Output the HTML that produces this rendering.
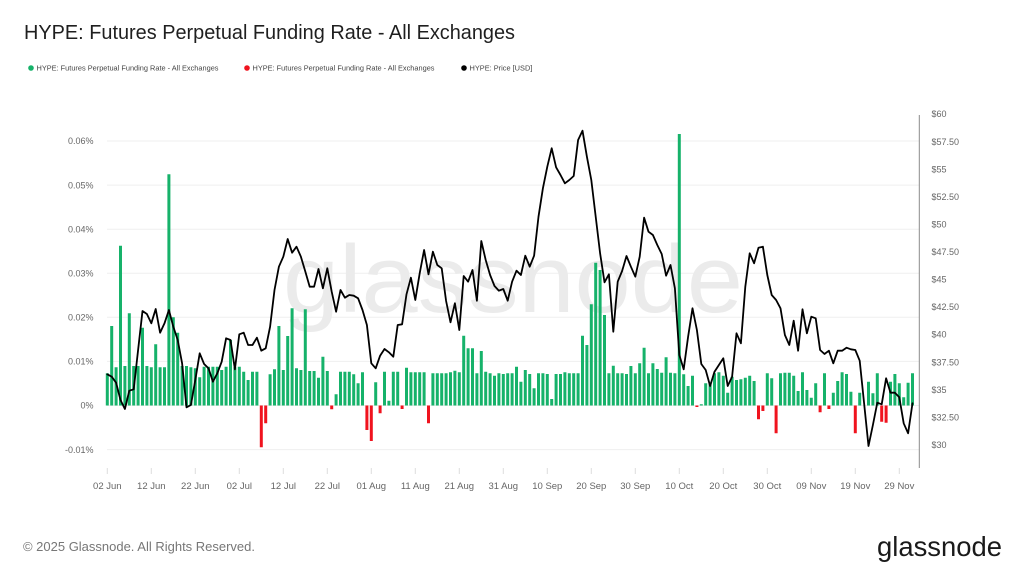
<!DOCTYPE html>
<html><head><meta charset="utf-8"><style>
html,body{margin:0;padding:0;background:#fff;width:1024px;height:571px;overflow:hidden}
svg{display:block}
text{font-family:"Liberation Sans",sans-serif}
</style></head><body>
<svg width="1024" height="571" viewBox="0 0 1024 571" xmlns="http://www.w3.org/2000/svg">
<rect width="1024" height="571" fill="#fff"/>
<text x="24" y="39" font-size="20" fill="#1f1f1f" textLength="491" lengthAdjust="spacingAndGlyphs">HYPE: Futures Perpetual Funding Rate - All Exchanges</text>
<circle cx="31" cy="68" r="2.8" fill="#16b26a"/>
<text x="36.5" y="70.6" font-size="7.4" fill="#444" textLength="182" lengthAdjust="spacingAndGlyphs">HYPE: Futures Perpetual Funding Rate - All Exchanges</text>
<circle cx="247" cy="68" r="2.8" fill="#f0131e"/>
<text x="252.5" y="70.6" font-size="7.4" fill="#444" textLength="182" lengthAdjust="spacingAndGlyphs">HYPE: Futures Perpetual Funding Rate - All Exchanges</text>
<circle cx="464" cy="68" r="2.8" fill="#000"/>
<text x="469.5" y="70.6" font-size="7.4" fill="#444">HYPE: Price [USD]</text>

<g stroke="#efefef" stroke-width="1">
<line x1="107" y1="141" x2="919" y2="141"/>
<line x1="107" y1="185.1" x2="919" y2="185.1"/>
<line x1="107" y1="229.2" x2="919" y2="229.2"/>
<line x1="107" y1="273.3" x2="919" y2="273.3"/>
<line x1="107" y1="317.3" x2="919" y2="317.3"/>
<line x1="107" y1="361.4" x2="919" y2="361.4"/>
<line x1="107" y1="405.5" x2="919" y2="405.5"/>
<line x1="107" y1="449.6" x2="919" y2="449.6"/>
</g>

<text x="283" y="312" font-size="96" fill="#ebebeb" textLength="460" lengthAdjust="spacingAndGlyphs">glassnode</text>

<g font-size="9" fill="#666" text-anchor="end">
<text x="93.5" y="144.2">0.06%</text>
<text x="93.5" y="188.3">0.05%</text>
<text x="93.5" y="232.4">0.04%</text>
<text x="93.5" y="276.5">0.03%</text>
<text x="93.5" y="320.5">0.02%</text>
<text x="93.5" y="364.6">0.01%</text>
<text x="93.5" y="408.7">0%</text>
<text x="93.5" y="452.8">-0.01%</text>
</g>
<g font-size="9" fill="#666">
<text x="931.5" y="117.2">$60</text>
<text x="931.5" y="144.8">$57.50</text>
<text x="931.5" y="172.3">$55</text>
<text x="931.5" y="199.9">$52.50</text>
<text x="931.5" y="227.5">$50</text>
<text x="931.5" y="255">$47.50</text>
<text x="931.5" y="282.6">$45</text>
<text x="931.5" y="310.2">$42.50</text>
<text x="931.5" y="337.7">$40</text>
<text x="931.5" y="365.3">$37.50</text>
<text x="931.5" y="392.9">$35</text>
<text x="931.5" y="420.4">$32.50</text>
<text x="931.5" y="448">$30</text>
</g>
<line x1="919.3" y1="115" x2="919.3" y2="468" stroke="#8a8a8a" stroke-width="1"/>

<g stroke="#dddddd" stroke-width="1">
<line x1="107.3" y1="468" x2="107.3" y2="474"/><line x1="151.3" y1="468" x2="151.3" y2="474"/><line x1="195.3" y1="468" x2="195.3" y2="474"/><line x1="239.3" y1="468" x2="239.3" y2="474"/><line x1="283.3" y1="468" x2="283.3" y2="474"/><line x1="327.3" y1="468" x2="327.3" y2="474"/><line x1="371.3" y1="468" x2="371.3" y2="474"/><line x1="415.3" y1="468" x2="415.3" y2="474"/><line x1="459.3" y1="468" x2="459.3" y2="474"/><line x1="503.3" y1="468" x2="503.3" y2="474"/><line x1="547.3" y1="468" x2="547.3" y2="474"/><line x1="591.3" y1="468" x2="591.3" y2="474"/><line x1="635.3" y1="468" x2="635.3" y2="474"/><line x1="679.3" y1="468" x2="679.3" y2="474"/><line x1="723.3" y1="468" x2="723.3" y2="474"/><line x1="767.3" y1="468" x2="767.3" y2="474"/><line x1="811.3" y1="468" x2="811.3" y2="474"/><line x1="855.3" y1="468" x2="855.3" y2="474"/><line x1="899.3" y1="468" x2="899.3" y2="474"/>
</g>
<g font-size="9.5" fill="#666" text-anchor="middle">
<text x="107.3" y="489">02 Jun</text><text x="151.3" y="489">12 Jun</text><text x="195.3" y="489">22 Jun</text><text x="239.3" y="489">02 Jul</text><text x="283.3" y="489">12 Jul</text><text x="327.3" y="489">22 Jul</text><text x="371.3" y="489">01 Aug</text><text x="415.3" y="489">11 Aug</text><text x="459.3" y="489">21 Aug</text><text x="503.3" y="489">31 Aug</text><text x="547.3" y="489">10 Sep</text><text x="591.3" y="489">20 Sep</text><text x="635.3" y="489">30 Sep</text><text x="679.3" y="489">10 Oct</text><text x="723.3" y="489">20 Oct</text><text x="767.3" y="489">30 Oct</text><text x="811.3" y="489">09 Nov</text><text x="855.3" y="489">19 Nov</text><text x="899.3" y="489">29 Nov</text>
</g>

<path fill="#16b26a" d="M105.8 373.3h3V405.5h-3z M110.2 326h3V405.5h-3z M114.6 367.3h3V405.5h-3z M119 245.7h3V405.5h-3z M123.4 366h3V405.5h-3z M127.8 313.3h3V405.5h-3z M132.2 366h3V405.5h-3z M136.6 366h3V405.5h-3z M141 327.7h3V405.5h-3z M145.4 366h3V405.5h-3z M149.8 367.3h3V405.5h-3z M154.2 344.3h3V405.5h-3z M158.6 367.3h3V405.5h-3z M163 367.3h3V405.5h-3z M167.4 174.3h3V405.5h-3z M171.8 317.3h3V405.5h-3z M176.2 332.7h3V405.5h-3z M180.6 366h3V405.5h-3z M185 366h3V405.5h-3z M189.4 367.3h3V405.5h-3z M193.8 368.3h3V405.5h-3z M198.2 377.3h3V405.5h-3z M202.6 366.7h3V405.5h-3z M207 366.7h3V405.5h-3z M211.4 366.7h3V405.5h-3z M215.8 366.7h3V405.5h-3z M220.2 370h3V405.5h-3z M224.6 366.7h3V405.5h-3z M229 340h3V405.5h-3z M233.4 367.3h3V405.5h-3z M237.8 366.7h3V405.5h-3z M242.2 371.7h3V405.5h-3z M246.6 380h3V405.5h-3z M251 371.7h3V405.5h-3z M255.4 371.7h3V405.5h-3z M268.6 374.3h3V405.5h-3z M273 369.3h3V405.5h-3z M277.4 326h3V405.5h-3z M281.8 370h3V405.5h-3z M286.2 336h3V405.5h-3z M290.6 308.3h3V405.5h-3z M295 368.3h3V405.5h-3z M299.4 370h3V405.5h-3z M303.8 309.3h3V405.5h-3z M308.2 371h3V405.5h-3z M312.6 371h3V405.5h-3z M317 377.7h3V405.5h-3z M321.4 356.7h3V405.5h-3z M325.8 371h3V405.5h-3z M334.6 394.3h3V405.5h-3z M339 371.7h3V405.5h-3z M343.4 371.7h3V405.5h-3z M347.8 371.7h3V405.5h-3z M352.2 374.3h3V405.5h-3z M356.6 383.3h3V405.5h-3z M361 372.3h3V405.5h-3z M374.2 382.3h3V405.5h-3z M383 371.7h3V405.5h-3z M387.4 400.7h3V405.5h-3z M391.8 371.7h3V405.5h-3z M396.2 371.7h3V405.5h-3z M405 367.7h3V405.5h-3z M409.4 372.3h3V405.5h-3z M413.8 372.3h3V405.5h-3z M418.2 372.3h3V405.5h-3z M422.6 372.3h3V405.5h-3z M431.4 373.3h3V405.5h-3z M435.8 373.3h3V405.5h-3z M440.2 373.3h3V405.5h-3z M444.6 373.3h3V405.5h-3z M449 372.3h3V405.5h-3z M453.4 370.7h3V405.5h-3z M457.8 372.3h3V405.5h-3z M462.2 335.7h3V405.5h-3z M466.6 348.3h3V405.5h-3z M471 348.3h3V405.5h-3z M475.4 373.3h3V405.5h-3z M479.8 351h3V405.5h-3z M484.2 371.7h3V405.5h-3z M488.6 373.3h3V405.5h-3z M493 375.7h3V405.5h-3z M497.4 373.3h3V405.5h-3z M501.8 374h3V405.5h-3z M506.2 373.3h3V405.5h-3z M510.6 373.3h3V405.5h-3z M515 366.7h3V405.5h-3z M519.4 381.7h3V405.5h-3z M523.8 370h3V405.5h-3z M528.2 374h3V405.5h-3z M532.6 388.3h3V405.5h-3z M537 373.3h3V405.5h-3z M541.4 373.3h3V405.5h-3z M545.8 374h3V405.5h-3z M550.2 399h3V405.5h-3z M554.6 374h3V405.5h-3z M559 374h3V405.5h-3z M563.4 372.3h3V405.5h-3z M567.8 373.3h3V405.5h-3z M572.2 373.3h3V405.5h-3z M576.6 373.3h3V405.5h-3z M581 335.7h3V405.5h-3z M585.4 345h3V405.5h-3z M589.8 304.3h3V405.5h-3z M594.2 262.7h3V405.5h-3z M598.6 270h3V405.5h-3z M603 315h3V405.5h-3z M607.4 373.3h3V405.5h-3z M611.8 365.7h3V405.5h-3z M616.2 373.3h3V405.5h-3z M620.6 373.3h3V405.5h-3z M625 374h3V405.5h-3z M629.4 366h3V405.5h-3z M633.8 373.3h3V405.5h-3z M638.2 363.3h3V405.5h-3z M642.6 347.7h3V405.5h-3z M647 373.3h3V405.5h-3z M651.4 363.3h3V405.5h-3z M655.8 369h3V405.5h-3z M660.2 372.7h3V405.5h-3z M664.6 357.3h3V405.5h-3z M669 372.7h3V405.5h-3z M673.4 373.3h3V405.5h-3z M677.8 134h3V405.5h-3z M682.2 374.3h3V405.5h-3z M686.6 386h3V405.5h-3z M691 375.7h3V405.5h-3z M699.8 404.3h3V405.5h-3z M704.2 383.3h3V405.5h-3z M708.6 382.7h3V405.5h-3z M713 373.3h3V405.5h-3z M717.4 372.3h3V405.5h-3z M721.8 375.7h3V405.5h-3z M726.2 392.7h3V405.5h-3z M730.6 376.7h3V405.5h-3z M735 380h3V405.5h-3z M739.4 379.3h3V405.5h-3z M743.8 377.7h3V405.5h-3z M748.2 375.7h3V405.5h-3z M752.6 381h3V405.5h-3z M765.8 373.3h3V405.5h-3z M770.2 378.3h3V405.5h-3z M779 373.3h3V405.5h-3z M783.4 372.7h3V405.5h-3z M787.8 372.7h3V405.5h-3z M792.2 375.7h3V405.5h-3z M796.6 391h3V405.5h-3z M801 372.3h3V405.5h-3z M805.4 390h3V405.5h-3z M809.8 397.7h3V405.5h-3z M814.2 383.3h3V405.5h-3z M823 373.3h3V405.5h-3z M831.8 392.7h3V405.5h-3z M836.2 381h3V405.5h-3z M840.6 372.3h3V405.5h-3z M845 374h3V405.5h-3z M849.4 391.7h3V405.5h-3z M858.2 392.7h3V405.5h-3z M867 381.7h3V405.5h-3z M871.4 393.3h3V405.5h-3z M875.8 373.3h3V405.5h-3z M889 381.7h3V405.5h-3z M893.4 374h3V405.5h-3z M897.8 383.3h3V405.5h-3z M902.2 397.3h3V405.5h-3z M906.6 382.7h3V405.5h-3z M911 373.3h3V405.5h-3z"/>
<path fill="#f0131e" d="M259.8 405.5h3V447.3h-3z M264.2 405.5h3V423.3h-3z M330.2 405.5h3V409.3h-3z M365.4 405.5h3V430h-3z M369.8 405.5h3V441h-3z M378.6 405.5h3V413.3h-3z M400.6 405.5h3V409h-3z M427 405.5h3V423.3h-3z M695.4 405.5h3V407h-3z M757 405.5h3V419.3h-3z M761.4 405.5h3V411h-3z M774.6 405.5h3V433.3h-3z M818.6 405.5h3V412.3h-3z M827.4 405.5h3V409h-3z M853.8 405.5h3V433.3h-3z M880.2 405.5h3V421.7h-3z M884.6 405.5h3V422.7h-3z"/>

<polyline fill="none" stroke="#000" stroke-width="1.8" stroke-linejoin="round" stroke-linecap="round" points="107.3,374.3 111.7,376.7 116.1,382.7 120.5,400 124.9,409 129.3,390.7 133.7,389.3 138.1,350 142.5,311 146.9,314 151.3,323.3 155.7,309 160.1,332.7 164.5,323.3 168.9,310 173.3,326.7 177.7,340 182.1,363.3 186.5,407.3 190.9,405 195.3,380 199.7,353.3 204.1,364 208.5,368.3 212.9,381.7 217.3,373.3 221.7,361.7 226.1,338.3 230.5,340 234.9,369.3 239.3,334.3 243.7,332.7 248.1,345 252.5,345 256.9,337.7 261.3,350.7 265.7,348.3 270.1,326.7 274.5,290 278.9,266.7 283.3,256.7 287.7,239 292.1,252.7 296.5,246.7 300.9,256.7 305.3,271.5 309.7,286.7 314.1,286.7 318.5,269 322.9,288.3 327.3,268.3 331.7,291.7 336.1,311.7 340.5,290 344.9,297.7 349.3,295 353.7,295.7 358.1,298.3 362.5,310 366.9,325 371.3,363.3 375.7,368.3 380.1,355.7 384.5,349 388.9,352.3 393.3,356.7 397.7,325 402.1,324.3 406.5,294.3 410.9,277.7 415.3,300 419.7,273.3 424.1,250 428.5,274.3 432.9,251.7 437.3,265 441.7,268.3 446.1,301 450.5,322.3 454.9,303.3 459.3,330 463.7,276 468.1,281.7 472.5,270 476.9,300.7 481.3,241 485.7,260 490.1,275 494.5,286 498.9,290.7 503.3,289 507.7,300.7 512.1,281.7 516.5,270.7 520.9,275 525.3,255.7 529.7,266.7 534.1,255.7 538.5,216.7 542.9,188.3 547.3,166.7 551.7,148.3 556.1,167.3 560.5,175 564.9,183.3 569.3,180 573.7,176 578.1,140 582.5,130.7 586.9,156.7 591.3,180 595.7,216.7 600.1,253.3 604.5,282.3 608.9,274.3 613.3,331.7 617.7,281.7 622.1,271 626.5,256 630.9,266.7 635.3,276.7 639.7,256.7 644.1,217.7 648.5,231.7 652.9,235 657.3,245 661.7,254 666.1,275.7 670.5,265 674.9,288.3 679.3,355 683.7,369.3 688.1,336.7 692.5,308.3 696.9,330 701.3,364 705.7,370 710.1,386 714.5,371.7 718.9,365 723.3,358.3 727.7,386 732.1,376.7 736.5,333.3 740.9,343.3 745.3,286.7 749.7,253.3 754.1,263.3 758.5,247.7 762.9,246.7 767.3,275 771.7,295 776.1,300 780.5,308.3 784.9,335 789.3,345 793.7,320.7 798.1,350.7 802.5,309.3 806.9,333.3 811.3,316.7 815.7,318.3 820.1,350 824.5,354 828.9,350.7 833.3,363.3 837.7,350.7 842.1,350.7 846.5,347.7 850.9,349.3 855.3,350 859.7,360.7 864.1,403.3 868.5,446 872.9,425 877.3,402.7 881.7,404.3 886.1,378.3 890.5,392.7 894.9,392.7 899.3,397.3 903.7,423.3 908.1,433.3 912.5,403.3"/>

<text x="23" y="551" font-size="13" fill="#777" textLength="232" lengthAdjust="spacingAndGlyphs">© 2025 Glassnode. All Rights Reserved.</text>
<text x="877" y="556" font-size="28" fill="#1a1a1a" textLength="125" lengthAdjust="spacingAndGlyphs">glassnode</text>
</svg>
</body></html>
